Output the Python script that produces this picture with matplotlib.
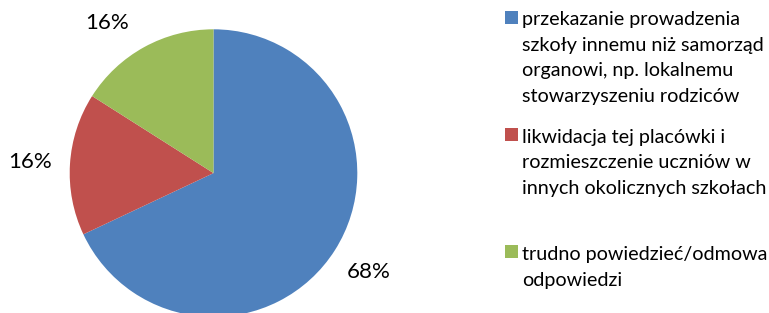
import matplotlib
matplotlib.use('Agg')
import matplotlib.pyplot as plt
from matplotlib.patches import Rectangle
import numpy as np

categories = [
    "przekazanie prowadzenia\nszkoły innemu niż samorząd\norganowi, np. lokalnemu\nstowarzyszeniu rodziców",
    "likwidacja tej placówki i\nrozmieszczenie uczniów w\ninnych okolicznych szkołach",
    "trudno powiedzieć/odmowa\nodpowiedzi",
]
values = [68, 16, 16]
colors = ['#4F81BD', '#C0504D', '#9BBB59']

plt.rcParams['font.family'] = ['Lato', 'DejaVu Sans']

W, H = 769, 313
fig = plt.figure(figsize=(W / 100, H / 100), dpi=100)
renderer = fig.canvas.get_renderer()

def fit_size(s, target_px):
    t = fig.text(0, 0, s, fontsize=10)
    w = t.get_window_extent(renderer).width
    t.remove()
    return 10 * target_px / w

leg_fs = fit_size("przekazanie prowadzenia", 219)
pct_fs = fit_size("16%", 44)

# pie
cx, cy, r = 213.5, 173.1, 143.8
ax = fig.add_axes([(cx - r) / W, (H - cy - r) / H, 2 * r / W, 2 * r / H])
wedges, texts, autotexts = ax.pie(
    values, colors=colors, startangle=90, counterclock=False,
    autopct=lambda p: f'{p:.0f}%', pctdistance=1.28,
    wedgeprops=dict(linewidth=0),
    textprops=dict(fontsize=pct_fs, color='black'))
ax.set_xlim(-1, 1)
ax.set_ylim(-1, 1)
ax.set_aspect('equal')
ax.axis('off')

# keep labels inside the top of the chart area (slide along the label circle)
ymax = 1.044
for t in autotexts:
    x, y = t.get_position()
    if y > ymax:
        d = np.hypot(x, y)
        y2 = ymax
        x2 = np.sign(x) * np.sqrt(d * d - y2 * y2)
        t.set_position((x2, y2))
    t.set_ha('center')
    t.set_va('center')

# legend (manual, entries evenly spaced like Excel)
line_h = 25.7
step = 104.6
c0 = 63.6
for k, (lab, col) in enumerate(zip(categories, colors)):
    lines = lab.split("\n")
    n = len(lines)
    b0 = c0 + step * k - (n - 1) * line_h / 2
    fig.patches.append(Rectangle((505 / W, 1 - (b0 - 1.5) / H), 13 / W, 13 / H,
                                 transform=fig.transFigure, facecolor=col,
                                 edgecolor='none'))
    for j, ln in enumerate(lines):
        fig.text(522 / W, 1 - (b0 + j * line_h) / H, ln, va='baseline', ha='left',
                 fontsize=leg_fs, color='black')

fig.savefig('out.png', dpi=100)
